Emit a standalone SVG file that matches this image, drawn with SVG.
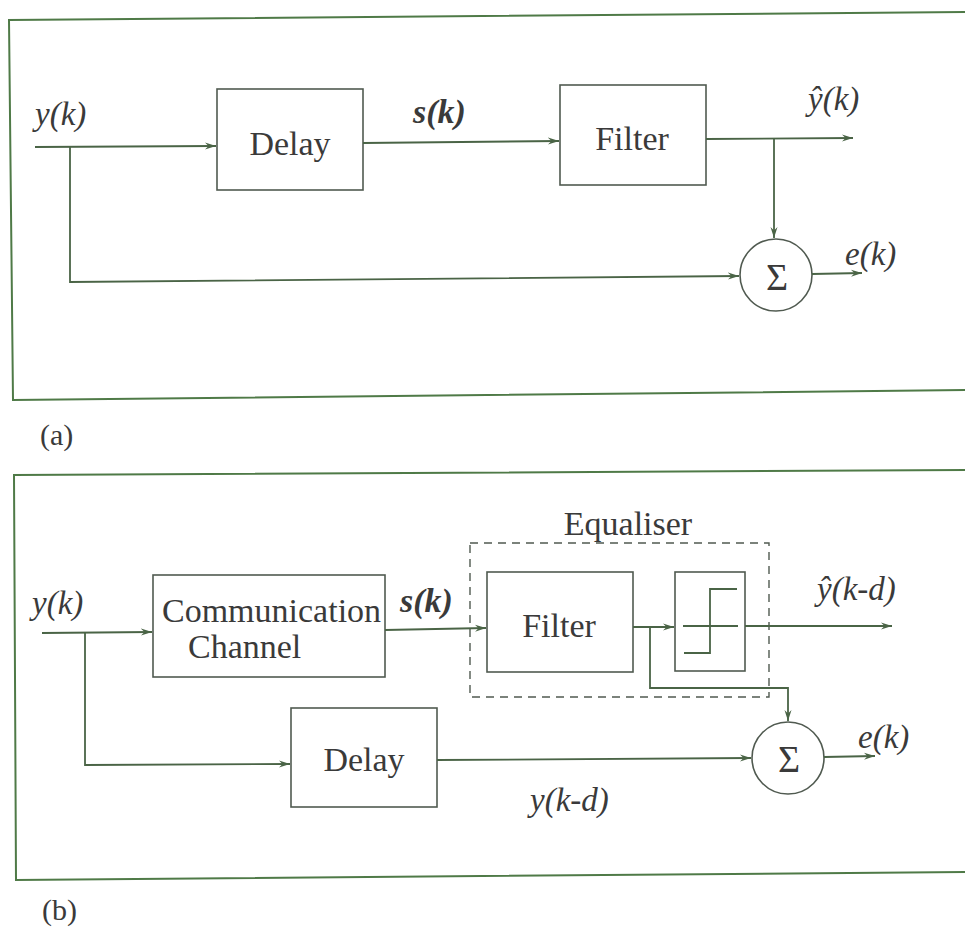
<svg xmlns="http://www.w3.org/2000/svg" width="965" height="930" viewBox="0 0 965 930">
<style>
.frame{fill:none;stroke:#4f7a47;stroke-width:2}
.box{fill:none;stroke:#505a50;stroke-width:1.6}
.dash{fill:none;stroke:#505a50;stroke-width:1.4;stroke-dasharray:8 6}
.wire{fill:none;stroke:#4a6446;stroke-width:1.8}
.arr{marker-end:url(#ah)}
.t{font-family:"Liberation Serif","Times New Roman",serif;fill:#3a3a3a}
.lbl{font-size:34px}
.it{font-style:italic;font-size:33px}
.bi{font-style:italic;font-weight:bold;font-size:34px}
.sig{font-size:38px;text-anchor:middle}
.cap{font-size:30px}
</style>
<defs>
<marker id="ah" markerWidth="12" markerHeight="8" refX="11" refY="4" orient="auto" markerUnits="userSpaceOnUse">
<path d="M0,0.5 L11,4 L0,7.5 L3.5,4 Z" fill="#4a6446"/>
</marker>
</defs>
<rect width="965" height="930" fill="#ffffff"/>

<!-- panel frames -->
<path class="frame" d="M968,12 L9,20 L13,400 L968,390"/>
<path class="frame" d="M968,470 L14,475 L16,880 L968,872"/>
<text class="t cap" x="40" y="445">(a)</text>
<text class="t cap" x="42" y="920">(b)</text>

<!-- panel (a) nodes -->
<g id="a-delay">
<rect class="box" x="217" y="89" width="146" height="101"/>
<text class="t lbl" x="290" y="155" text-anchor="middle">Delay</text>
</g>
<g id="a-filter">
<rect class="box" x="560" y="85" width="146" height="100"/>
<text class="t lbl" x="632" y="150" text-anchor="middle">Filter</text>
</g>
<g id="a-sum">
<circle class="box" cx="776" cy="275" r="36"/>
<text class="t sig" x="777" y="290">Σ</text>
</g>

<!-- panel (b) nodes -->
<g id="b-equaliser">
<rect class="dash" x="470" y="543" width="299" height="154"/>
<text class="t lbl" x="628" y="535" text-anchor="middle">Equaliser</text>
</g>
<g id="b-channel">
<rect class="box" x="153" y="575" width="232" height="102"/>
<text class="t lbl" x="162" y="622">Communication</text>
<text class="t lbl" x="188" y="658">Channel</text>
</g>
<g id="b-filter">
<rect class="box" x="487" y="572" width="146" height="100"/>
<text class="t lbl" x="559" y="637" text-anchor="middle">Filter</text>
</g>
<g id="b-quantiser">
<rect class="box" x="675" y="572" width="70" height="99"/>
<path class="wire" d="M683,626 L738,626 M684,653 L710,653 L710,589 L737,589"/>
</g>
<g id="b-delay">
<rect class="box" x="291" y="708" width="146" height="99"/>
<text class="t lbl" x="364" y="771" text-anchor="middle">Delay</text>
</g>
<g id="b-sum">
<circle class="box" cx="788" cy="758" r="36"/>
<text class="t sig" x="789" y="772">Σ</text>
</g>

<!-- connectors -->
<g id="connectors">
<path class="wire arr" d="M35,147 L216,146"/>
<path class="wire arr" d="M70,147 L70,282 L739,276"/>
<path class="wire arr" d="M363,143 L559,141"/>
<path class="wire arr" d="M706,139 L853,138"/>
<path class="wire arr" d="M774,139 L774,238"/>
<path class="wire arr" d="M812,274 L862,273"/>

<path class="wire arr" d="M42,633 L152,632"/>
<path class="wire arr" d="M85,633 L85,765 L290,764"/>
<path class="wire arr" d="M385,630 L486,628"/>
<path class="wire arr" d="M633,627 L674,627"/>
<path class="wire arr" d="M745,626 L892,626"/>
<path class="wire arr" d="M650,627 L650,688 L788,688 L788,721"/>
<path class="wire arr" d="M437,760 L751,758"/>
<path class="wire arr" d="M824,757 L875,756"/>
</g>

<!-- labels -->
<g id="labels">
<text class="t it" x="35" y="125">y(k)</text>
<text class="t bi" x="413" y="123">s(k)</text>
<text class="t it" x="808" y="110">ŷ(k)</text>
<text class="t it" x="845" y="265">e(k)</text>

<text class="t it" x="32" y="614">y(k)</text>
<text class="t bi" x="400" y="612">s(k)</text>
<text class="t it" x="817" y="600">ŷ(k-d)</text>
<text class="t it" x="858" y="748">e(k)</text>
<text class="t it" x="530" y="811">y(k-d)</text>
</g>
</svg>
